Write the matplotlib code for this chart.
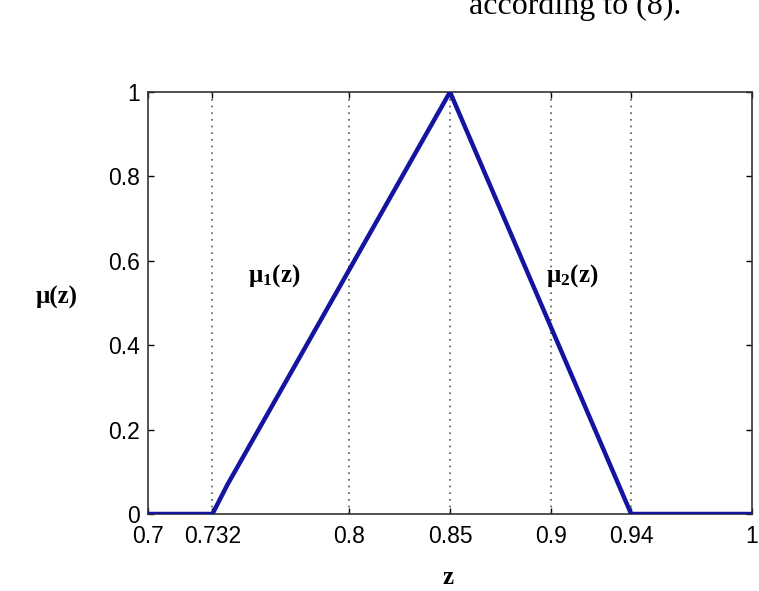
import matplotlib
matplotlib.use("Agg")
import matplotlib.pyplot as plt

plt.rcParams["mathtext.fontset"] = "custom"
plt.rcParams["mathtext.rm"] = "Liberation Serif:bold"
plt.rcParams["mathtext.it"] = "Liberation Serif:bold"
plt.rcParams["mathtext.bf"] = "Liberation Serif:bold"

# data
z_pts = [0.70, 0.732, 0.7395, 0.85, 0.94, 1.00]
mu_pts = [0.0, 0.0, 0.07, 1.0, 0.0, 0.0]
vlines = [0.732, 0.8, 0.85, 0.9, 0.94]
xticks = [0.7, 0.732, 0.8, 0.85, 0.9, 0.94, 1.0]
xtick_labels = ["0.7", "0.732", "0.8", "0.85", "0.9", "0.94", "1"]
yticks = [0, 0.2, 0.4, 0.6, 0.8, 1.0]
ytick_labels = ["0", "0.2", "0.4", "0.6", "0.8", "1"]

fig = plt.figure(figsize=(7.59, 5.91), dpi=100)
ax = fig.add_axes([148/759, 77/591, (752-148)/759, (514-92)/591])

for v in vlines:
    ax.plot([v, v], [0, 1], linestyle=(0, (1, 3)), color="#555555", linewidth=1.2)

ax.plot(z_pts, mu_pts, color="#1414a0", linewidth=3.2, solid_joinstyle="miter", zorder=5)

ax.set_xlim(0.7, 1.0)
ax.set_ylim(0, 1)
ax.set_xticks(xticks)
ax.set_xticklabels(xtick_labels, fontsize=16.5, family="Liberation Sans")
ax.set_yticks(yticks)
ax.set_yticklabels(ytick_labels, fontsize=16.5, family="Liberation Sans")
ax.tick_params(direction="in", top=True, right=True, length=4, width=1)
ax.tick_params(axis="x", pad=8)
ax.tick_params(axis="y", pad=6)
for s in ax.spines.values():
    s.set_linewidth(1.2)
    s.set_color("#333333")

serif = "Liberation Serif"
fig.text(57/759, 1 - 297/591, "μ(z)", fontsize=18, fontweight="bold", family=serif,
         ha="center", va="center")
fig.text(448/759, 1 - 578/591, "z", fontsize=18, fontweight="bold", family=serif,
         ha="center", va="center")
ax.text(0.7625, 0.565, "μ$_{1}$(z)", fontsize=18, fontweight="bold", family=serif,
        ha="center", va="center")
ax.text(0.9105, 0.565, "μ$_{2}$(z)", fontsize=18, fontweight="bold", family=serif,
        ha="center", va="center")

fig.text(575/759, 1 - 14/591, "according to (8).", fontsize=23, family=serif,
         ha="center", va="baseline")

fig.savefig("out.png", dpi=100)
